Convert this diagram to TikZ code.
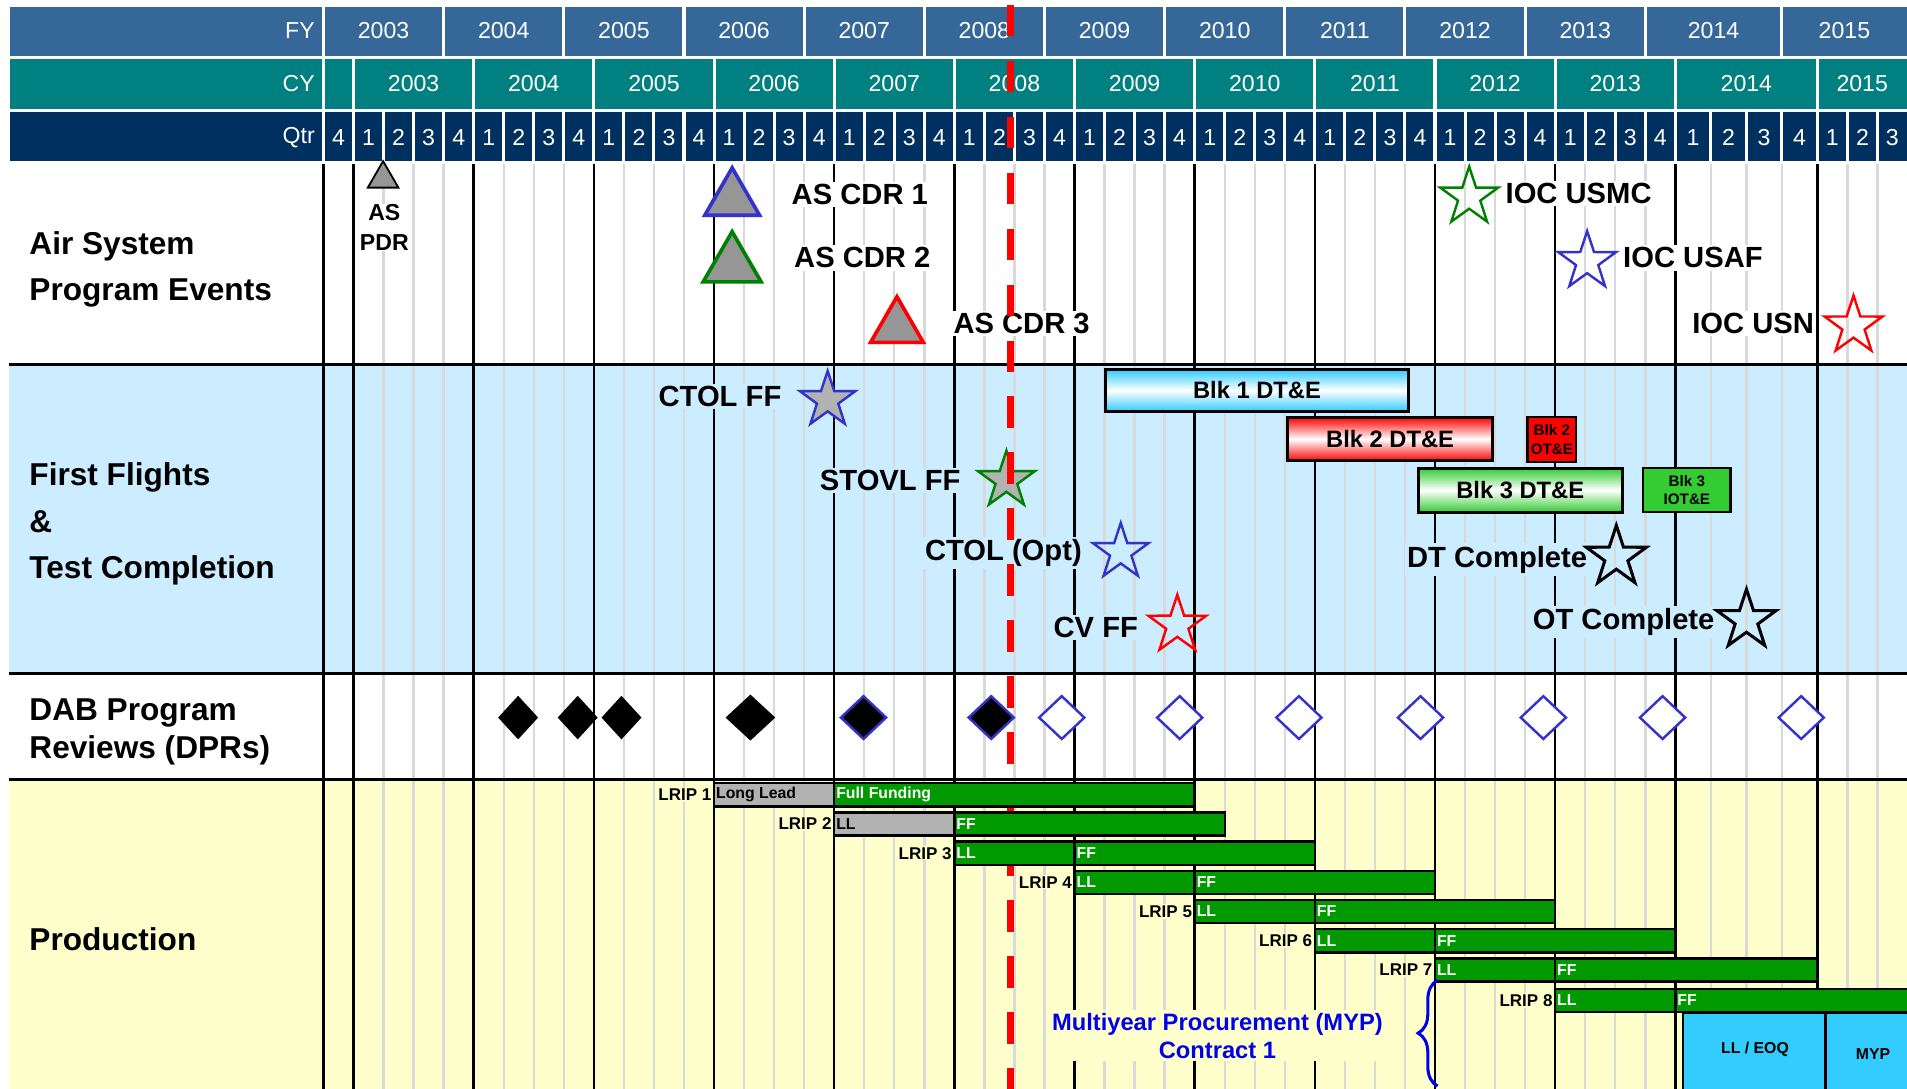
\documentclass[tikz,border=0pt]{standalone}
\usepackage{fontspec}
\setmainfont{Liberation Sans}
\usetikzlibrary{shapes.geometric,decorations.pathreplacing}
\definecolor{fyblue}{RGB}{53,104,153}
\definecolor{cyteal}{RGB}{0,128,128}
\definecolor{qtrnavy}{RGB}{0,48,96}
\definecolor{flightblue}{RGB}{204,236,255}
\definecolor{prodyellow}{RGB}{255,255,204}
\definecolor{gridgray}{RGB}{217,217,217}
\definecolor{evblue}{RGB}{51,51,204}
\definecolor{evgreen}{RGB}{0,128,0}
\definecolor{evred}{RGB}{255,0,0}
\definecolor{evgray}{RGB}{150,150,150}
\definecolor{stargray}{RGB}{178,178,178}
\definecolor{bargreen}{RGB}{0,153,0}
\definecolor{bargray}{RGB}{178,178,178}
\definecolor{blkcyan}{RGB}{51,204,255}
\definecolor{blkgreen}{RGB}{51,204,51}
\definecolor{eoqcyan}{RGB}{51,204,255}
\definecolor{mypblue}{RGB}{0,0,235}
% one LRIP lot: number, top, start, split, end (in quarters), LL style, LL text, FF text
\newcommand{\lrip}[8]{%
  \draw[#6] ({qx(#3)},#2) rectangle ({qx(#4)},#2+19);
  \draw[ffbox] ({qx(#4)},#2) rectangle ({qx(#5)},#2+19);
  \node[lriplabel] (lrip#1) at ({qx(#3)-1},#2+9.5) {LRIP #1};
  \node[bartext,#6text] (ll#1) at ({qx(#3)},#2+9.5) {#7};
  \node[bartext,text=white] (ff#1) at ({qx(#4)},#2+9.5) {#8};}

\begin{document}
\begin{tikzpicture}[x=1pt,y=-1pt,
    declare function={qx(\q)=266+24.7*min(\q,45)+29.2*max(min(\q,49)-45,0)+24.7*max(\q-49,0);},
    hdrcell/.style={draw=white,line width=2.5pt},
    hdrtext/.style={text=white,inner sep=0pt,font=\fontsize{19}{22}\selectfont},
    gridline/.style={gridgray,line width=2pt},
    yearline/.style={black,line width=2pt},
    rowline/.style={black,line width=2.5pt},
    rowlabel/.style={anchor=west,align=left,inner sep=0pt,font=\fontsize{26}{38}\selectfont\bfseries},
    evlabel/.style={fill=white,inner sep=2pt,font=\fontsize{24}{28}\selectfont\bfseries},
    fflabel/.style={evlabel,fill=flightblue},
    tri/.style={regular polygon,regular polygon sides=3,fill=evgray,inner sep=0pt,line width=3pt},
    evstar/.style={star,star points=5,star point ratio=2.6,inner sep=0pt,minimum size=50pt,line width=2pt},
    blkbox/.style={draw=black,line width=2.5pt,inner sep=0pt,font=\fontsize{19.5}{22}\selectfont\bfseries},
    blksmall/.style={draw=black,line width=2pt,inner sep=0pt,align=center,font=\fontsize{12.5}{15}\selectfont\bfseries},
    dpr/.style={diamond,fill=black,inner sep=0pt,minimum width=33pt,minimum height=36pt},
    dprnew/.style={dpr,draw=evblue,line width=2pt,minimum width=38pt,minimum height=36pt},
    dpropen/.style={dprnew,fill=white},
    nowline/.style={red,line width=6pt,dash pattern=on 26pt off 20pt},
    llgray/.style={draw=black,fill=bargray,line width=2pt},
    llgraytext/.style={text=black},
    llgreen/.style={draw=black,fill=bargreen,line width=2pt},
    llgreentext/.style={text=white},
    ffbox/.style={llgreen},
    bartext/.style={anchor=west,inner sep=1.5pt,font=\fontsize{13}{15}\selectfont\bfseries},
    lriplabel/.style={anchor=east,fill=prodyellow,inner sep=1pt,font=\fontsize{14}{16}\selectfont\bfseries},
    eoqbox/.style={draw=black,fill=eoqcyan,line width=2pt},
    eoqtext/.style={inner sep=0pt,font=\fontsize{13}{15}\selectfont\bfseries},
    mypnote/.style={align=center,fill=prodyellow,inner sep=2pt,text=mypblue,font=\fontsize{19.5}{23}\selectfont\bfseries},
    mypbrace/.style={decorate,decoration={brace,amplitude=16pt},draw=mypblue,line width=2.5pt}]
  \clip (0,0) rectangle (1568,895);
  \fill[white] (0,0) rectangle (1568,895);
  \fill[flightblue] (7,299.5) rectangle (1568,553.5);
  \fill[prodyellow] (7,641) rectangle (1568,895);

  \foreach \i in {0,...,51}
    \draw[gridline] ({qx(\i)},133) -- ({qx(\i)},895);
  \foreach \i in {0,1,5,...,49}
    \draw[yearline] ({qx(\i)},133) -- ({qx(\i)},895);
  \foreach \y in {299.5,553.5,641}
    \draw[rowline] (7,\y) -- (1568,\y);

  % time scale
  \draw[hdrcell,fill=fyblue] (7,4.5) rectangle ({qx(0)},47);
  \draw[hdrcell,fill=cyteal] (7,47) rectangle ({qx(0)},91);
  \draw[hdrcell,fill=qtrnavy] (7,91) rectangle ({qx(0)},134);
  \node[hdrtext,anchor=east] (fylabel) at (259,25.5) {FY};
  \node[hdrtext,anchor=east] (cylabel) at (259,69) {CY};
  \node[hdrtext,anchor=east] (qtrlabel) at (259,113) {Qtr};
  \draw[hdrcell,fill=cyteal] ({qx(0)},47) rectangle ({qx(1)},91);
  \foreach \k in {0,...,12}{
    \pgfmathtruncatemacro{\yr}{2003+\k}
    \pgfmathsetmacro{\xa}{qx(4*\k)}
    \pgfmathsetmacro{\xb}{qx(4*\k+4)+10*(\k==12)}
    \draw[hdrcell,fill=fyblue] (\xa,4.5) rectangle (\xb,47);
    \node[hdrtext] (fy\yr) at ({(\xa+min(\xb,1568))/2},25.5) {\yr};
    \pgfmathsetmacro{\xa}{qx(4*\k+1)}
    \pgfmathsetmacro{\xb}{qx(4*\k+5)}
    \draw[hdrcell,fill=cyteal] (\xa,47) rectangle (\xb,91);
    \node[hdrtext] (cy\yr) at ({(\xa+min(\xb,1568))/2},69) {\yr};
  }
  \foreach \i in {0,...,51}{
    \pgfmathtruncatemacro{\qn}{mod(\i+3,4)+1}
    \pgfmathsetmacro{\xa}{qx(\i)}
    \pgfmathsetmacro{\xb}{qx(\i+1)+10*(\i==51)}
    \draw[hdrcell,fill=qtrnavy] (\xa,91) rectangle (\xb,134);
    \node[hdrtext] (q\i) at ({(\xa+min(\xb,1568))/2},113) {\qn};
  }

  \node[rowlabel] (airsys) at (24,221.7) {Air System\\Program Events};
  \node[rowlabel] (flights) at (24,430.7) {First Flights\\\&\\Test Completion};
  \node[rowlabel,font=\fontsize{26}{31}\selectfont\bfseries] (dab) at (24,602) {DAB Program\\Reviews (DPRs)};
  \node[rowlabel] (prod) at (24,772) {Production};

  % air system events
  \node[tri,draw=black,line width=1.5pt,minimum size=29pt] (pdr) at (315,147) {};
  \node[evlabel,align=center,inner sep=1pt,font=\fontsize{19}{24}\selectfont\bfseries] (pdrtext) at (316,187) {AS\\PDR};
  \node[tri,draw=evblue,minimum size=52pt] (cdr1) at (602,164) {};
  \node[evlabel] (cdr1text) at (707,160) {AS CDR 1};
  \node[tri,draw=evgreen,minimum size=55pt] (cdr2) at (602,218) {};
  \node[evlabel] (cdr2text) at (709,212) {AS CDR 2};
  \node[tri,draw=evred,minimum size=50pt] (cdr3) at (737.5,269) {};
  \node[evlabel] (cdr3text) at (840,266) {AS CDR 3};
  \node[evlabel] (usmctext) at (1298,159) {IOC USMC};
  \node[evstar,draw=evgreen] (usmc) at (1208,162) {};
  \node[evlabel] (usaftext) at (1392,212) {IOC USAF};
  \node[evstar,draw=evblue] (usaf) at (1305,215) {};
  \node[evlabel] (usntext) at (1441.5,266) {IOC USN};
  \node[evstar,draw=evred] (usn) at (1524,268) {};

  % first flights and test
  \node[fflabel] (ctoltext) at (592,326) {CTOL FF};
  \node[evstar,fill=stargray,draw=evblue,minimum size=48pt] (ctol) at (680.5,329) {};
  \node[fflabel] (stovltext) at (732,395) {STOVL FF};
  \node[evstar,fill=stargray,draw=evgreen,minimum size=49pt] (stovl) at (827.5,395) {};
  \node[fflabel] (opttext) at (825,454.4) {CTOL (Opt)};
  \node[evstar,draw=evblue,minimum size=48pt] (opt) at (921.5,454) {};
  \node[fflabel] (cvtext) at (901,516) {CV FF};
  \node[evstar,draw=evred,minimum size=50pt] (cv) at (968,514) {};
  \node[blkbox,top color=blkcyan,bottom color=blkcyan,middle color=white,minimum width=249pt,minimum height=34pt] (blk1) at (1033.5,321) {Blk 1 DT\&E};
  \node[blkbox,top color=red,bottom color=red,middle color=white,minimum width=168pt,minimum height=36pt] (blk2) at (1143,361) {Blk 2 DT\&E};
  \node[blksmall,fill=red,minimum width=40pt,minimum height=37pt] (blk2ot) at (1276,361.5) {Blk 2\\OT\&E};
  \node[blkbox,top color=blkgreen,bottom color=blkgreen,middle color=white,minimum width=168pt,minimum height=36pt] (blk3) at (1250,403) {Blk 3 DT\&E};
  \node[blksmall,fill=blkgreen,minimum width=72pt,minimum height=36pt] (blk3iot) at (1387,403) {Blk 3\\IOT\&E};
  \node[fflabel] (dttext) at (1231,460) {DT Complete};
  \node[evstar,draw=black,line width=2.5pt,minimum size=52pt] (dt) at (1329,458) {};
  \node[fflabel] (ottext) at (1335,511.7) {OT Complete};
  \node[evstar,draw=black,line width=2.5pt,minimum size=51pt] (ot) at (1436,510) {};

  % program reviews
  \foreach \x [count=\n] in {426,475,511}
    \node[dpr] (dpr\n) at (\x,590) {};
  \node[dpr,minimum width=41pt,minimum height=38pt] (dpr4) at (617,590) {};
  \node[dprnew] (dpr5) at (710,590) {};
  \node[dprnew] (dpr6) at (815,590) {};
  \foreach \x [count=\n from 7] in {873,970,1068,1168,1269,1367,1481}
    \node[dpropen] (dpr\n) at (\x,590) {};

  \coordinate (nowtop) at (831,4);
  \coordinate (nowbot) at (831,895);
  \draw[nowline] (nowtop) -- (nowbot);

  % production lots
  \lrip{1}{644}{13}{17}{29}{llgray}{Long Lead}{Full Funding}
  \lrip{2}{668}{17}{21}{30}{llgray}{LL}{FF}
  \lrip{3}{692}{21}{25}{33}{llgreen}{LL}{FF}
  \lrip{4}{716}{25}{29}{37}{llgreen}{LL}{FF}
  \lrip{5}{740}{29}{33}{41}{llgreen}{LL}{FF}
  \lrip{6}{764}{33}{37}{45}{llgreen}{LL}{FF}
  \lrip{7}{788}{37}{41}{49}{llgreen}{LL}{FF}
  \lrip{8}{813}{41}{45}{52.4}{llgreen}{LL}{FF}
  \draw[eoqbox] (1384,833) rectangle (1501,905);
  \node[eoqtext] (eoq) at (1443,863) {LL / EOQ};
  \draw[eoqbox] (1501,833) rectangle (1585,905);
  \node[eoqtext] (myp) at (1540,867) {MYP};
  \node[mypnote] (mypnote) at (1001,851.5) {Multiyear Procurement (MYP)\\Contract 1};
  \coordinate (bracebot) at (1182,893);
  \coordinate (bracetop) at (1182,806);
  \draw[mypbrace] (bracebot) -- (bracetop);
\end{tikzpicture}
\end{document}
